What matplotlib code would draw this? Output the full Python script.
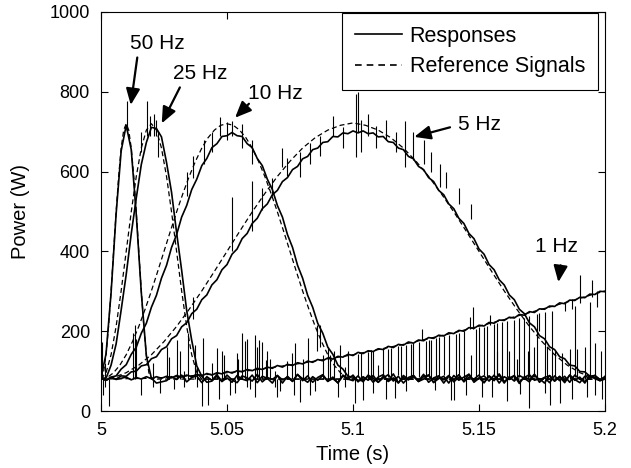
import numpy as np
import matplotlib
matplotlib.use("Agg")
import matplotlib.pyplot as plt
from matplotlib.lines import Line2D

plt.rcParams['font.family'] = ['Liberation Sans', 'DejaVu Sans']

# ---------------- data ----------------
t_start, t_end = 5.0, 5.2
resp_period = 0.002          # sampling period of the measured responses (s)

# measured responses, one value every 2 ms from 5.000 s to 5.200 s
resp_50hz = [
    84, 143, 296, 494, 652, 716, 655, 492, 296, 138,
    82, 70, 73, 76, 86, 79, 90, 73, 84, 88,
    71, 86, 77, 91, 74, 83, 72, 89, 80, 76,
    90, 71, 87, 82, 70, 89, 78, 85, 74, 92,
    76, 88, 72, 84, 91, 75, 81, 71, 88, 79,
    90, 73, 86, 77, 89, 72, 83, 91, 75, 87,
    70, 84, 89, 74, 80, 90, 71, 87, 78, 89,
    73, 85, 76, 92, 72, 82, 88, 75, 90, 70,
    86, 79, 88, 73, 84, 91, 77, 81, 70, 89,
    75, 87, 74, 90, 79, 71, 87, 83, 89, 76,
    80]
resp_25hz = [
    82, 82, 115, 168, 253, 342, 444, 534, 618, 673,
    711, 708, 687, 623, 548, 447, 353, 252, 177, 113,
    87, 72, 75, 87, 74, 90, 78, 71, 88, 83,
    75, 92, 73, 84, 79, 89, 70, 87, 75, 91,
    81, 72, 86, 77, 89, 74, 85, 70, 90, 80,
    76, 88, 73, 90, 82, 72, 87, 75, 93, 71,
    84, 78, 89, 74, 86, 90, 72, 81, 87, 70,
    89, 77, 85, 92, 75, 83, 71, 88, 79, 90,
    70, 86, 75, 89, 82, 73, 91, 78, 84, 71,
    88, 76, 87, 72, 90, 80, 74, 87, 83, 77,
    85]
resp_10hz = [
    83, 77, 85, 88, 105, 116, 142, 160, 195, 220,
    260, 290, 333, 365, 410, 442, 486, 515, 555, 581,
    615, 633, 660, 670, 688, 690, 698, 690, 688, 670,
    660, 633, 615, 581, 555, 515, 486, 442, 410, 365,
    333, 290, 260, 220, 195, 160, 142, 115, 105, 87,
    85, 77, 76, 88, 72, 85, 91, 74, 83, 70,
    89, 79, 86, 75, 92, 72, 83, 88, 70, 87,
    78, 91, 73, 85, 80, 90, 71, 87, 76, 93,
    74, 82, 89, 69, 86, 79, 92, 72, 84, 88,
    75, 86, 71, 90, 77, 85, 70, 89, 81, 76,
    87]
resp_5hz = [
    83, 77, 84, 80, 88, 87, 98, 100, 113, 116,
    131, 136, 154, 161, 181, 189, 211, 221, 244, 255,
    279, 291, 316, 329, 354, 367, 393, 406, 432, 445,
    470, 483, 507, 519, 542, 553, 575, 585, 605, 613,
    632, 638, 655, 659, 673, 675, 688, 687, 697, 695,
    702, 697, 702, 695, 697, 687, 688, 675, 673, 659,
    655, 638, 632, 613, 605, 585, 575, 553, 542, 519,
    507, 483, 470, 445, 432, 406, 393, 367, 354, 329,
    316, 291, 279, 255, 244, 221, 211, 189, 181, 161,
    154, 136, 131, 115, 113, 99, 98, 87, 89, 79,
    84]
resp_1hz = [
    83, 77, 84, 79, 82, 85, 78, 84, 80, 86,
    81, 86, 82, 87, 83, 89, 85, 90, 86, 92,
    88, 94, 90, 96, 93, 99, 95, 101, 98, 104,
    101, 107, 104, 110, 107, 114, 110, 117, 114, 121,
    118, 125, 122, 129, 126, 133, 130, 137, 135, 142,
    139, 147, 144, 151, 149, 156, 154, 162, 159, 167,
    165, 173, 170, 178, 176, 184, 182, 190, 188, 196,
    194, 202, 200, 209, 207, 215, 213, 222, 220, 228,
    227, 235, 233, 242, 240, 249, 247, 256, 255, 263,
    262, 271, 269, 278, 277, 285, 284, 293, 292, 300,
    299]

# short spikes in the responses: time, lower end, upper end
spike_t = [
    5.0003, 5.0006, 5.0015, 5.0030, 5.0102, 5.0128, 5.0135, 5.0140, 5.0160,
    5.0184, 5.0194, 5.0205, 5.0210, 5.0225, 5.0260, 5.0300, 5.0315, 5.0330,
    5.0345, 5.0365, 5.0366, 5.0372, 5.0380, 5.0400, 5.0405, 5.0426, 5.0440,
    5.0460, 5.0472, 5.0500, 5.0518, 5.0519, 5.0545, 5.0560, 5.0570, 5.0580,
    5.0598, 5.0610, 5.0625, 5.0638, 5.0655, 5.0670, 5.0690, 5.0720, 5.0757,
    5.0765, 5.0770, 5.0790, 5.0791, 5.0823, 5.0857, 5.0870, 5.0900, 5.0925,
    5.0950, 5.0970, 5.1008, 5.1010, 5.1020, 5.1030, 5.1040, 5.1060, 5.1080,
    5.1100, 5.1120, 5.1167, 5.1180, 5.1206, 5.1210, 5.1240, 5.1273, 5.1290,
    5.1310, 5.1325, 5.1340, 5.1345, 5.1360, 5.1390, 5.1400, 5.1420, 5.1440,
    5.1464, 5.1477, 5.1490, 5.1520, 5.1544, 5.1550, 5.1560, 5.1590, 5.1620,
    5.1640, 5.1663, 5.1680, 5.1695, 5.1700, 5.1720, 5.1740, 5.1780, 5.1800,
    5.1820, 5.1840, 5.1860, 5.1870, 5.1900, 5.1920, 5.1950, 5.1960, 5.1970,
    5.1985, 5.1990,
    # hairs along the 5 Hz and 10 Hz curves
    5.0640, 5.0680, 5.0740, 5.0830, 5.0870, 5.0920, 5.0960, 5.1060, 5.1090,
    5.1130, 5.1170, 5.1240, 5.1280, 5.1310, 5.1370, 5.1420, 5.1470, 5.0340,
    5.0410, 5.0440, 5.0560, 5.0600, 5.0160, 5.0220,
    # extra spikes round the base line
    5.0470, 5.0530, 5.0610, 5.0710, 5.0830, 5.0940, 5.1080, 5.1130, 5.1210,
    5.1450, 5.1510, 5.1610, 5.1760, 5.1870, 5.1930, 5.0490, 5.0660, 5.0740,
    5.0880, 5.0980, 5.1030, 5.1470, 5.1570, 5.1650, 5.1770, 5.1830, 5.1890,
    5.1960, 5.1020, 5.1140, 5.1260, 5.1380, 5.1500, 5.1570, 5.1700, 5.1760,
    5.1070, 5.1150, 5.1190, 5.1230, 5.1300, 5.1330, 5.1410, 5.1530, 5.1610,
    5.1660, 5.1730, 5.1790, 5.1880, 5.1940, 5.0235, 5.0270, 5.0290, 5.0480,
    5.0510, 5.0540, 5.0590, 5.0620, 5.0700, 5.0800, 5.0850, 5.0910]
spike_lo = [
    80, 40, 60, 12, 700, 80, 80, 85, 40,
    690, 690, 60, 690, 636, 80, 80, 80, 60,
    80, 230, 585, 80, 60, 12, 80, 15, 80,
    80, 690, 680, 690, 400, 80, 80, 80, 60,
    450, 80, 80, 80, 80, 80, 60, 611, 80,
    40, 80, 23, 586, 80, 150, 160, 80, 80,
    80, 60, 20, 636, 700, 650, 28, 80, 85,
    80, 85, 32, 90, 611, 80, 85, 178, 85,
    80, 52, 85, 561, 90, 28, 27, 85, 80,
    205, 205, 85, 90, 215, 36, 85, 80, 85,
    80, 42, 85, 80, 7, 85, 200, 15, 85,
    20, 250, 80, 255, 270, 80, 285, 40, 260,
    80, 30,
    505, 540, 590, 620, 640, 690, 660, 690, 660,
    680, 650, 630, 620, 600, 560, 520, 480, 540,
    620, 650, 660, 620, 650, 690,
    30, 45, 35, 50, 40, 35, 45, 30, 50,
    40, 35, 25, 45, 30, 35, 80, 80, 80,
    80, 80, 80, 80, 80, 80, 80, 80, 80,
    80, 85, 85, 85, 85, 85, 85, 85, 85,
    85, 85, 85, 85, 85, 85, 85, 85, 85,
    85, 85, 85, 85, 85, 45, 80, 55, 80,
    40, 80, 55, 80, 35, 80, 50, 80]
spike_hi = [
    172, 85, 120, 80, 777, 195, 215, 180, 80,
    777, 740, 120, 745, 700, 160, 178, 150, 100,
    195, 285, 640, 165, 110, 80, 182, 80, 120,
    157, 736, 725, 728, 536, 130, 195, 175, 180,
    577, 190, 178, 173, 128, 130, 100, 660, 145,
    80, 170, 80, 650, 182, 215, 215, 160, 150,
    165, 110, 80, 795, 800, 730, 80, 148, 150,
    115, 158, 80, 162, 728, 165, 170, 205, 176,
    178, 80, 185, 620, 188, 80, 80, 195, 200,
    236, 261, 205, 210, 240, 80, 218, 222, 150,
    228, 80, 232, 150, 80, 160, 245, 80, 150,
    80, 272, 155, 280, 340, 160, 328, 80, 300,
    150, 80,
    560, 585, 635, 672, 690, 740, 712, 745, 715,
    730, 700, 700, 680, 650, 600, 560, 520, 600,
    680, 700, 720, 680, 700, 730,
    80, 80, 80, 80, 80, 80, 80, 80, 80,
    80, 80, 80, 80, 80, 80, 140, 150, 125,
    140, 150, 145, 140, 150, 130, 160, 145, 155,
    170, 143, 155, 172, 190, 210, 220, 238, 247,
    150, 158, 163, 168, 178, 182, 194, 214, 225,
    232, 242, 250, 262, 272, 80, 135, 80, 150,
    80, 145, 80, 160, 80, 130, 80, 140]

# reference signals (dashed): value lists with their sampling step (s)
ref_50hz = [80, 96, 141, 212, 301, 400, 499, 588, 659, 704, 720,
            704, 659, 588, 499, 400, 301, 212, 141, 96, 80]
ref_50hz_step = 0.001
ref_25hz = [80, 96, 141, 212, 301, 400, 499, 588, 659, 704, 720,
            704, 659, 588, 499, 400, 301, 212, 141, 96, 80]
ref_25hz_step = 0.002
ref_10hz = [80, 84, 96, 115, 141, 174, 212, 255, 301, 350, 400, 450, 499, 545,
            588, 626, 659, 685, 704, 716, 720, 716, 704, 685, 659, 626, 588,
            545, 499, 450, 400, 350, 301, 255, 212, 174, 141, 115, 96, 84, 80]
ref_10hz_step = 0.0025
ref_5hz = [80, 84, 96, 115, 141, 174, 212, 255, 301, 350, 400, 450, 499, 545,
           588, 626, 659, 685, 704, 716, 722, 716, 704, 685, 659, 626, 588,
           545, 499, 450, 400, 350, 301, 255, 212, 174, 141, 115, 96, 84, 80]
ref_5hz_step = 0.005
ref_1hz = [80, 82, 90, 102, 120, 141, 167, 196, 229, 264, 301]
ref_1hz_step = 0.02

x_ticks = [5.0, 5.05, 5.1, 5.15, 5.2]
x_tick_labels = ['5', '5.05', '5.1', '5.15', '5.2']
y_ticks = [0, 200, 400, 600, 800, 1000]

# annotation labels: text, arrow tip, arrow tail, text centre (data coords)
ann_text = ['50 Hz', '25 Hz', '10 Hz', '5 Hz', '1 Hz']
ann_tip = [(5.0118, 767), (5.0241, 721), (5.0532, 735), (5.1243, 687), (5.1815, 323)]
ann_tail = [(5.0144, 886), (5.0313, 811), (5.0587, 770), (5.1385, 711), (5.1824, 365)]
ann_pos = [(5.0222, 922), (5.0393, 847), (5.0690, 795), (5.1500, 718), (5.1806, 412)]

# ---------------- drawing ----------------
fig = plt.figure(figsize=(6.31, 4.68), dpi=100)
ax = fig.add_axes([101 / 631, 1 - 411 / 468, 504 / 631, 399 / 468])

for resp in (resp_50hz, resp_25hz, resp_10hz, resp_5hz, resp_1hz):
    tt = t_start + resp_period * np.arange(len(resp))
    ax.plot(tt, resp, color='black', lw=1.2)

n_sp = min(len(spike_t), len(spike_lo), len(spike_hi))
ax.vlines(spike_t[:n_sp], spike_lo[:n_sp], spike_hi[:n_sp], colors='black', lw=0.8)

dash = (0, (4, 2.5))
for ref, step in ((ref_50hz, ref_50hz_step), (ref_25hz, ref_25hz_step),
                  (ref_10hz, ref_10hz_step), (ref_5hz, ref_5hz_step),
                  (ref_1hz, ref_1hz_step)):
    tt = t_start + step * np.arange(len(ref))
    if tt[-1] < t_end - 1e-9:
        tt = np.append(tt, t_end)
        ref = list(ref) + [ref[-1]]
    ax.plot(tt, ref, color='black', lw=0.9, linestyle=dash)

for txt, tip, tail, pos in zip(ann_text, ann_tip, ann_tail, ann_pos):
    ax.annotate('', xy=tip, xytext=tail,
                arrowprops=dict(arrowstyle='-|>,head_length=0.7,head_width=0.3',
                                color='black', lw=1.6, shrinkA=0, shrinkB=0,
                                mutation_scale=14))
    ax.text(pos[0], pos[1], txt, ha='center', va='center', fontsize=15)

ax.set_xlim(t_start, t_end)
ax.set_ylim(0, 1000)
ax.set_xticks(x_ticks)
ax.set_xticklabels(x_tick_labels)
ax.set_yticks(y_ticks)
ax.tick_params(direction='in', top=True, right=True, length=5, width=0.8,
               labelsize=13, pad=8)
for s in ax.spines.values():
    s.set_linewidth(0.8)
ax.set_xlabel('Time (s)', fontsize=14.5, labelpad=4)
ax.set_ylabel('Power (W)', fontsize=14.5, labelpad=14)

handles = [Line2D([], [], color='black', lw=1.2),
           Line2D([], [], color='black', lw=1.2, linestyle=(0, (4, 3)))]
leg = ax.legend(handles, ['Responses', 'Reference Signals'], loc='upper right',
                bbox_to_anchor=(0.986, 0.998), borderaxespad=0, fontsize=15.5,
                frameon=True, fancybox=False, edgecolor='black',
                handlelength=2.2, handletextpad=0.35, borderpad=0.6,
                labelspacing=0.45)
leg.get_frame().set_linewidth(0.8)
leg.get_frame().set_alpha(1)

fig.savefig('out.png', dpi=100)
